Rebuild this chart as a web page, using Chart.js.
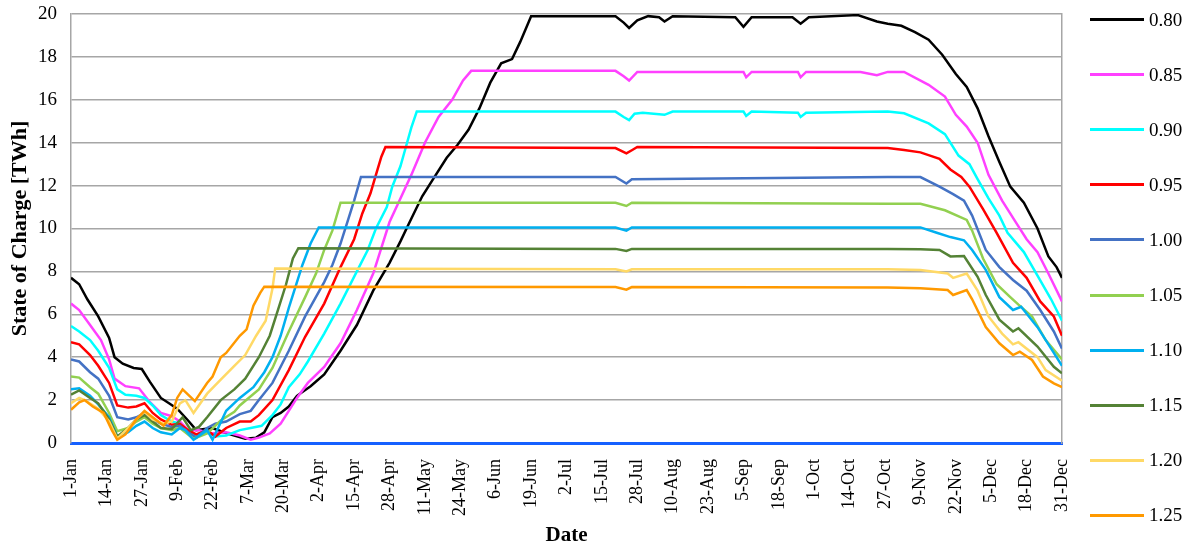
<!DOCTYPE html>
<html>
<head>
<meta charset="utf-8">
<script src="https://cdn.jsdelivr.net/npm/chart.js@4"></script>
<style>
  body { margin: 0; background: #fff; }
  #wrap { position: relative; width: 1184px; height: 548px; }
  #legend { position: absolute; left: 1090px; top: 0; font-family: "Liberation Serif", serif; font-size: 19px; color: #000; }
  .item { position: absolute; left: 0; display: flex; align-items: center; white-space: nowrap; }
  .item span.line { display: inline-block; width: 54px; height: 3px; margin-right: 5px; }
</style>
</head>
<body>
<div id="wrap">
  <canvas id="socChart" width="1184" height="548"></canvas>
  <div id="legend"></div>
</div>
<script>
// tick labels every 13 days, day 0 = 1-Jan
const dateLabels = ['1-Jan', '14-Jan', '27-Jan', '9-Feb', '22-Feb', '7-Mar', '20-Mar', '2-Apr', '15-Apr',
  '28-Apr', '11-May', '24-May', '6-Jun', '19-Jun', '2-Jul', '15-Jul', '28-Jul', '10-Aug', '23-Aug',
  '5-Sep', '18-Sep', '1-Oct', '14-Oct', '27-Oct', '9-Nov', '22-Nov', '5-Dec', '18-Dec', '31-Dec'];

const seriesNames = ['0.80', '0.85', '0.90', '0.95', '1.00', '1.05', '1.10', '1.15', '1.20', '1.25'];
const seriesColors = ['#000000', '#ff40ff', '#00ffff', '#ff0000', '#4472c4', '#92d050', '#00b0f0', '#548235', '#ffd966', '#ff9900'];

// [day of year, state of charge TWh]
const s080 = [[0,7.7],[3,7.4],[6,6.7],[10,5.9],[14,4.9],[16,4.0],[19,3.7],[23,3.5],[26,3.45],[29,2.85],[33,2.1],[36,1.85],[39,1.6],[43,1.05],[46,0.6],[49,0.65],[52,0.7],[56,0.5],[60,0.35],[64,0.2],[68,0.25],[71,0.5],[74,1.2],[77,1.4],[80,1.7],[83,2.2],[88,2.65],[93,3.2],[99,4.3],[105,5.5],[111,7.1],[117,8.4],[121,9.4],[124,10.2],[129,11.5],[133,12.3],[138,13.3],[142,13.9],[146,14.6],[150,15.6],[154,16.8],[158,17.7],[162,17.9],[165,18.7],[169,19.9],[200,19.9],[203,19.6],[205,19.35],[208,19.7],[212,19.9],[216,19.85],[218,19.65],[221,19.9],[244,19.85],[247,19.4],[250,19.85],[265,19.85],[268,19.55],[271,19.85],[289,19.95],[296,19.65],[300,19.55],[305,19.45],[310,19.15],[315,18.8],[320,18.1],[325,17.2],[329,16.6],[333,15.6],[337,14.3],[341,13.1],[345,11.95],[350,11.2],[355,10.0],[359,8.7],[362,8.2],[364,7.7]];
const s085 = [[0,6.5],[3,6.2],[7,5.5],[11,4.8],[14,3.9],[16,3.0],[20,2.65],[25,2.55],[29,1.9],[33,1.4],[37,1.25],[40,1.0],[43,0.6],[47,0.6],[52,0.45],[57,0.5],[62,0.35],[66,0.15],[69,0.25],[73,0.45],[77,0.9],[80,1.5],[83,2.1],[87,2.8],[93,3.55],[99,4.65],[105,6.2],[111,7.9],[117,10.3],[121,11.4],[125,12.5],[130,14.0],[135,15.2],[140,16.0],[144,16.9],[147,17.35],[200,17.35],[203,17.1],[205,16.9],[208,17.3],[247,17.3],[248,17.05],[250,17.3],[267,17.3],[268,17.05],[270,17.3],[290,17.3],[296,17.15],[300,17.3],[306,17.3],[315,16.7],[321,16.15],[325,15.3],[329,14.75],[333,14.0],[337,12.5],[342,11.3],[347,10.3],[351,9.5],[355,8.9],[359,7.9],[364,6.6]];
const s090 = [[0,5.45],[3,5.2],[7,4.8],[10,4.3],[14,3.5],[17,2.5],[20,2.25],[24,2.2],[27,2.1],[30,1.75],[33,1.3],[37,1.0],[40,0.9],[43,0.5],[46,0.3],[50,0.5],[53,0.3],[57,0.35],[62,0.6],[66,0.7],[70,0.8],[74,1.3],[77,1.8],[80,2.6],[84,3.2],[87,3.8],[93,5.1],[99,6.5],[105,8.0],[109,9.0],[112,10.0],[116,11.0],[118,11.95],[121,12.9],[123,13.8],[125,14.7],[127,15.45],[200,15.45],[203,15.2],[205,15.05],[207,15.35],[210,15.4],[218,15.3],[221,15.45],[247,15.45],[248,15.25],[250,15.45],[267,15.4],[268,15.2],[270,15.4],[300,15.45],[306,15.37],[315,14.9],[321,14.4],[326,13.4],[330,13.0],[333,12.3],[337,11.4],[341,10.6],[344,9.8],[350,8.9],[355,7.8],[360,6.7],[364,5.7]];
const s095 = [[0,4.7],[3,4.6],[7,4.1],[10,3.6],[14,2.8],[17,1.75],[21,1.65],[24,1.7],[27,1.85],[30,1.4],[33,1.1],[37,0.85],[40,0.9],[43,0.6],[46,0.4],[50,0.6],[53,0.3],[57,0.7],[62,1.0],[66,1.0],[69,1.3],[74,2.0],[80,3.4],[86,4.95],[93,6.5],[99,8.2],[104,9.5],[107,10.7],[110,11.64],[112,12.5],[114,13.35],[115.5,13.8],[200,13.75],[204,13.5],[206,13.65],[208,13.8],[300,13.75],[306,13.66],[312,13.55],[319,13.25],[323,12.75],[327,12.4],[330,11.95],[335,10.9],[340,9.8],[346,8.4],[351,7.7],[356,6.6],[361,5.9],[364,5.0]];
const s100 = [[0,3.9],[3,3.8],[7,3.3],[10,3.0],[14,2.2],[17,1.2],[21,1.1],[24,1.2],[27,1.4],[30,1.1],[33,0.9],[37,0.75],[40,0.8],[43,0.5],[46,0.25],[50,0.7],[53,0.9],[57,1.0],[62,1.35],[66,1.5],[69,2.0],[74,2.8],[80,4.3],[86,5.9],[93,7.5],[96,8.3],[99,9.3],[102,10.5],[104,11.3],[106.5,12.4],[200,12.4],[204,12.1],[206,12.3],[300,12.4],[312,12.4],[319,11.95],[324,11.6],[328,11.3],[331,10.6],[336,9.0],[341,8.2],[346,7.6],[351,7.1],[356,6.2],[361,5.2],[364,4.4]];
const s105 = [[0,3.1],[3,3.05],[7,2.6],[10,2.3],[14,1.4],[17,0.55],[21,0.7],[24,1.0],[27,1.2],[30,0.9],[33,0.7],[37,0.6],[40,0.7],[43,0.4],[45,0.2],[50,0.45],[55,1.05],[60,1.45],[62,1.75],[69,2.5],[74,3.5],[80,5.2],[86,6.8],[90,7.9],[93,9.0],[96,9.9],[99,11.2],[200,11.2],[204,11.05],[206,11.2],[300,11.15],[312,11.15],[321,10.85],[329,10.4],[331,9.9],[335,8.6],[340,7.4],[345,6.8],[348,6.45],[353,5.9],[358,4.8],[364,3.9]];
const s110 = [[0,2.5],[3,2.55],[7,2.2],[10,1.8],[14,1.2],[17,0.3],[21,0.5],[24,0.8],[27,1.0],[30,0.7],[33,0.5],[37,0.4],[40,0.7],[42,0.6],[45,0.15],[50,0.6],[52,0.15],[57,1.5],[62,2.1],[67,2.6],[71,3.3],[74,4.0],[77,5.0],[80,6.3],[85,8.3],[88,9.3],[91,10.05],[200,10.05],[204,9.9],[206,10.05],[300,10.05],[312,10.05],[318,9.8],[323,9.6],[328,9.45],[331,9.0],[336,8.07],[341,6.8],[346,6.2],[349,6.35],[355,5.4],[361,4.2],[364,3.6]];
const s115 = [[0,2.25],[3,2.45],[7,2.1],[10,1.85],[14,1.1],[17,0.3],[21,0.7],[24,1.1],[27,1.3],[30,1.0],[33,0.7],[37,0.65],[41,1.2],[44,0.6],[47,0.75],[50,1.2],[55,2.0],[60,2.5],[64,3.0],[69,4.0],[73,5.0],[76,6.2],[79,7.4],[81.5,8.6],[83.5,9.08],[200,9.05],[204,8.95],[206,9.05],[300,9.05],[312,9.03],[319,9.0],[323,8.7],[328,8.72],[333,7.75],[336,6.9],[341,5.75],[346,5.2],[348,5.35],[355,4.5],[361,3.55],[364,3.25]];
const s120 = [[0,1.85],[3,2.1],[5,2.0],[10,1.6],[14,1.0],[17,0.2],[21,0.7],[24,1.1],[27,1.45],[30,1.1],[34,0.9],[37,1.0],[40,1.85],[42,2.0],[45,1.4],[50,2.3],[55,2.95],[60,3.6],[64,4.1],[68,5.0],[71.5,5.7],[74,7.2],[75,8.14],[200,8.1],[204,8.0],[206,8.1],[300,8.1],[312,8.07],[322,7.9],[324,7.7],[329,7.9],[333,7.1],[337,5.9],[342,5.1],[346,4.6],[348,4.7],[355,4.0],[358,3.4],[364,2.9]];
const s125 = [[0,1.55],[3,1.9],[5,2.0],[8,1.7],[12,1.4],[15,0.6],[17,0.15],[20,0.4],[24,1.1],[27,1.5],[30,1.2],[34,0.8],[37,1.3],[39,2.1],[41,2.5],[45.5,1.95],[50,2.8],[52,3.1],[55,4.0],[57,4.2],[62,5.0],[64.5,5.3],[67,6.4],[69.5,7.0],[71,7.29],[200,7.27],[204,7.15],[206,7.27],[300,7.25],[312,7.21],[322,7.13],[324,6.9],[329,7.13],[331,6.7],[336,5.4],[341,4.65],[346,4.1],[348.5,4.26],[353,3.87],[357,3.1],[361,2.78],[364,2.6]];

const allSeries = [s080, s085, s090, s095, s100, s105, s110, s115, s120, s125];

const serif = '"Liberation Serif", "Times New Roman", serif';

const datasets = allSeries.map((s, i) => ({
    label: seriesNames[i],
    data: s.map(p => ({ x: p[0], y: p[1] })),
    borderColor: seriesColors[i],
    backgroundColor: seriesColors[i],
    borderWidth: 2.5,
    pointRadius: 0,
    tension: 0,
    fill: false,
    order: allSeries.length - i
}));

const config = {
    type: 'line',
    data: { datasets: datasets },
    options: {
        responsive: false,
        animation: false,
        devicePixelRatio: 1,
        layout: { padding: { top: 14, right: 122, bottom: 0, left: 0 } },
        plugins: {
            legend: { display: false },
            tooltip: { enabled: false }
        },
        scales: {
            x: {
                type: 'linear',
                min: 0,
                max: 364,
                grid: { display: false },
                border: { display: true, color: '#1560ff', width: 3 },
                ticks: {
                    stepSize: 13,
                    autoSkip: false,
                    minRotation: 90,
                    maxRotation: 90,
                    padding: 8,
                    color: '#000',
                    font: { family: serif, size: 18 },
                    callback: v => dateLabels[Math.round(v / 13)]
                },
                title: {
                    display: true,
                    text: 'Date',
                    color: '#000',
                    font: { family: serif, size: 21, weight: 'bold' },
                    padding: { top: 0, bottom: 0 }
                },
                afterFit: s => { s.height = 105; s.paddingLeft = 0; s.paddingRight = 0; }
            },
            y: {
                min: 0,
                max: 20,
                ticks: {
                    stepSize: 2,
                    padding: 14,
                    color: '#000',
                    font: { family: serif, size: 19 }
                },
                grid: {
                    drawTicks: false,
                    lineWidth: 1.5,
                    color: c => c.tick.value === 0 ? 'rgba(0,0,0,0)' : '#a6a6a6'
                },
                border: { color: '#a6a6a6', width: 1.5 },
                title: {
                    display: true,
                    text: 'State of Charge [TWh]',
                    color: '#000',
                    font: { family: serif, size: 22, weight: 'bold' },
                    padding: { top: 7, bottom: 0 }
                },
                afterFit: s => { s.width = 71; s.paddingTop = 0; s.paddingBottom = 0; }
            },
            y2: {
                position: 'right',
                min: 0,
                max: 20,
                ticks: { display: false },
                grid: { display: false, drawTicks: false },
                border: { color: '#a6a6a6', width: 1.5 },
                afterFit: s => { s.width = 0; s.paddingTop = 0; s.paddingBottom = 0; }
            }
        }
    }
};

const ctx = document.getElementById('socChart').getContext('2d');
window.socChart = new Chart(ctx, config);

// legend down the right side
const legend = document.getElementById('legend');
seriesNames.forEach((name, i) => {
    const item = document.createElement('div');
    item.className = 'item';
    item.style.top = (19.5 + i * 55.1 - 11) + 'px';
    item.style.height = '22px';
    item.innerHTML = '<span class="line" style="background:' + seriesColors[i] + '"></span>' + name;
    legend.appendChild(item);
});
</script>
</body>
</html>
